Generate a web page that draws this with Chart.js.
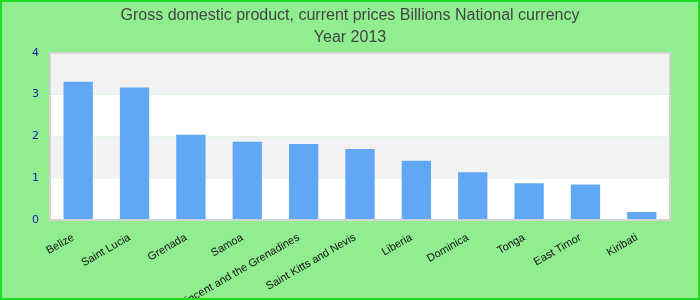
<!DOCTYPE html>
<html>
<head>
<meta charset="utf-8">
<script src="https://cdn.jsdelivr.net/npm/chart.js@4"></script>
<style>
  html, body { margin: 0; padding: 0; background: #90ee90; }
  #wrap { width: 700px; height: 300px; }
</style>
</head>
<body>
<div id="wrap"><canvas id="gdpChart"></canvas></div>
<script>
const countries = ["Belize", "Saint Lucia", "Grenada", "Samoa", "Saint Vincent and the Grenadines",
    "Saint Kitts and Nevis", "Liberia", "Dominica", "Tonga", "East Timor", "Kiribati"];
const gdpValues = [3.31, 3.17, 2.04, 1.87, 1.82, 1.70, 1.42, 1.14, 0.88, 0.85, 0.19];
const yTicks = [0, 1, 2, 3, 4];
const titleLines = ["Gross domestic product, current prices Billions National currency", "Year 2013"];

// background, stripes and frame
const decor = {
    id: "decor",
    beforeDraw(chart) {
        const { ctx, chartArea: a, scales } = chart;
        ctx.save();
        ctx.fillStyle = "#90ee90";
        ctx.fillRect(0, 0, chart.width, chart.height);
        for (let i = 0; i < yTicks.length - 1; i++) {
            const y1 = scales.y.getPixelForValue(yTicks[i]);
            const y2 = scales.y.getPixelForValue(yTicks[i + 1]);
            ctx.fillStyle = i % 2 === 0 ? "#ffffff" : "#f2f2f2";
            ctx.fillRect(a.left, y2, a.right - a.left, y1 - y2);
        }
        ctx.restore();
    },
    afterDraw(chart) {
        const { ctx, chartArea: a } = chart;
        ctx.save();
        ctx.strokeStyle = "#d3d3d3";
        ctx.lineWidth = 2;
        ctx.strokeRect(a.left, a.top, a.right - a.left, a.bottom - a.top);
        ctx.strokeStyle = "#22dd22";
        ctx.lineWidth = 2;
        ctx.strokeRect(1, 1, chart.width - 2, chart.height - 2);
        ctx.restore();
    },
};

new Chart(document.getElementById("gdpChart"), {
    type: "bar",
    data: {
        labels: countries,
        datasets: [
            {
                data: gdpValues,
                backgroundColor: "#60a8f4",
                borderWidth: 0,
                barPercentage: 0.52,
                categoryPercentage: 1,
            },
        ],
    },
    options: {
        responsive: true,
        maintainAspectRatio: false,
        animation: false,
        layout: { padding: 0 },
        plugins: {
            legend: { display: false },
            tooltip: { enabled: false },
            title: {
                display: true,
                text: titleLines,
                color: "#444444",
                font: { family: "Liberation Sans", size: 16, weight: "normal", lineHeight: 1.4 },
                padding: { top: 4, bottom: 4 },
            },
        },
        scales: {
            x: {
                grid: { display: false },
                border: { display: false },
                ticks: {
                    color: "#111111",
                    font: { family: "Liberation Sans", size: 11 },
                    maxRotation: 30,
                    minRotation: 30,
                    autoSkip: false,
                    padding: 3,
                    labelOffset: -5,
                },
                afterFit(scale) { scale.height = 80; },
            },
            y: {
                min: 0,
                max: 4,
                grid: { display: false },
                border: { display: false },
                ticks: {
                    stepSize: 1,
                    color: "#1a1aa6",
                    font: { family: "DejaVu Sans", size: 11 },
                    padding: 3,
                },
                afterFit(scale) { scale.width = 50; },
            },
            // empty right gutter so the plot ends where the reference does
            y2: {
                position: "right",
                display: true,
                grid: { display: false },
                border: { display: false },
                ticks: { display: false },
                afterFit(scale) { scale.width = 30; },
            },
        },
    },
    plugins: [decor],
});
</script>
</body>
</html>
